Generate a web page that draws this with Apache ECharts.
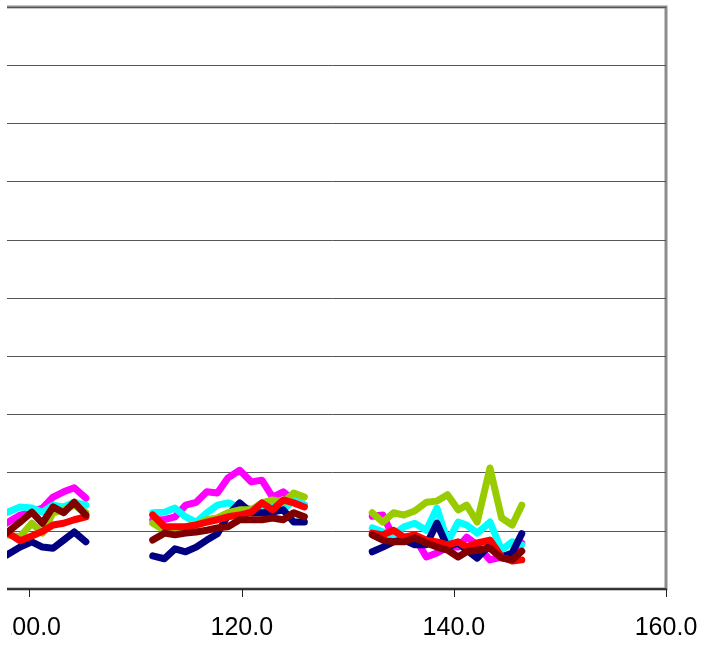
<!DOCTYPE html>
<html>
<head>
<meta charset="utf-8">
<script src="https://cdn.jsdelivr.net/npm/echarts@6/dist/echarts.min.js"></script>
<style>html,body{margin:0;padding:0;background:#fff}#c{width:707px;height:650px}</style>
</head>
<body>
<div id="c"></div>
<script>
// x positions (null-valued points at 108.5 and 129 break the lines between groups)
const xValues = [
  97.8, 99.1, 100.2, 101.2, 102.2, 103.2, 104.2, 105.3,
  108.5,
  111.6, 112.7, 113.7, 114.7, 115.7, 116.7, 117.7, 118.7, 119.8, 120.9, 121.9, 122.9, 123.9, 124.9, 125.9,
  129.0,
  132.3, 133.3, 134.3, 135.3, 136.3, 137.4, 138.4, 139.4, 140.4, 141.2, 142.2, 143.4, 144.5, 145.5, 146.4
];
const xTicks = [80, 100, 120, 140, 160];
const navy = [
  0.58, 0.72, 0.81, 0.72, 0.70, 0.84, 0.98, 0.81,
  null,
  0.57, 0.52, 0.69, 0.64, 0.72, 0.84, 0.95, 1.27, 1.48, 1.31, 1.31, 1.32, 1.36, 1.15, 1.15,
  null,
  0.64, 0.72, 0.81, 0.84, 0.76, 0.76, 1.13, 0.72, 0.79, 0.67, 0.53, 0.76, 0.55, 0.62, 0.95
];
const magenta = [
  1.13, 1.27, 1.32, 1.39, 1.58, 1.67, 1.74, 1.56,
  null,
  1.19, 1.19, 1.24, 1.44, 1.49, 1.67, 1.65, 1.91, 2.04, 1.84, 1.87, 1.58, 1.67, 1.53, 1.44,
  null,
  1.25, 1.27, 0.89, 0.84, 0.89, 0.55, 0.62, 0.72, 0.72, 0.89, 0.76, 0.50, 0.55, 0.50, 0.79
];
const cyan = [
  1.31, 1.41, 1.39, 1.32, 1.44, 1.41, 1.49, 1.44,
  null,
  1.31, 1.32, 1.39, 1.24, 1.15, 1.31, 1.44, 1.48, 1.41, 1.37, 1.41, 1.49, 1.36, 1.53, 1.44,
  null,
  1.05, 0.98, 0.93, 1.07, 1.13, 1.01, 1.39, 0.81, 1.15, 1.10, 0.96, 1.15, 0.67, 0.81, 0.76
];
const green = [
  0.93, 0.90, 1.13, 0.96, 1.31, 1.36, 1.44, 1.31,
  null,
  1.13, 1.01, 1.01, 1.07, 1.10, 1.19, 1.22, 1.31, 1.36, 1.36, 1.48, 1.53, 1.49, 1.65, 1.58,
  null,
  1.31, 1.15, 1.31, 1.27, 1.34, 1.49, 1.51, 1.62, 1.36, 1.44, 1.15, 2.08, 1.22, 1.10, 1.44
];
const red = [
  0.98, 0.83, 0.91, 0.99, 1.10, 1.13, 1.19, 1.24,
  null,
  1.27, 1.07, 1.07, 1.07, 1.10, 1.15, 1.19, 1.24, 1.27, 1.32, 1.48, 1.36, 1.53, 1.48, 1.41,
  null,
  0.96, 0.93, 1.01, 0.89, 0.93, 0.84, 0.81, 0.76, 0.81, 0.72, 0.79, 0.84, 0.55, 0.48, 0.50
];
const maroon = [
  0.96, 1.15, 1.32, 1.13, 1.41, 1.31, 1.49, 1.27,
  null,
  0.84, 0.96, 0.93, 0.96, 0.98, 1.01, 1.05, 1.07, 1.19, 1.19, 1.19, 1.22, 1.19, 1.31, 1.24,
  null,
  0.93, 0.84, 0.81, 0.81, 0.88, 0.79, 0.72, 0.67, 0.55, 0.64, 0.67, 0.70, 0.53, 0.50, 0.65
];

const seriesDefs = [
  ['Magenta', magenta, '#FF00FF'],
  ['Cyan', cyan, '#00FFFF'],
  ['Navy', navy, '#000080'],
  ['Green', green, '#99CC00'],
  ['Red', red, '#FF0000'],
  ['Maroon', maroon, '#800000']
];

const chart = echarts.init(document.getElementById('c'));
chart.setOption({
  animation: false,
  backgroundColor: '#fff',
  grid: {
    left: -182.4, right: 41, top: 7, bottom: 61,
    containLabel: false, outerBoundsMode: 'none',
    show: true, borderColor: '#8c8c8c', borderWidth: 3, backgroundColor: 'transparent'
  },
  xAxis: {
    type: 'value', min: xTicks[0], max: xTicks[xTicks.length - 1], interval: 20,
    axisLine: { show: true, onZero: false, lineStyle: { color: '#222', width: 1.5 } },
    axisTick: { show: true, inside: false, length: 8, lineStyle: { color: '#222', width: 1 } },
    axisLabel: {
      margin: 27, color: '#000', fontSize: 25, fontFamily: 'Liberation Sans, Arial, sans-serif',
      formatter: v => v.toFixed(1)
    },
    splitLine: { show: false }
  },
  yAxis: {
    type: 'value', min: 0, max: 10, interval: 1,
    axisLine: { show: false }, axisTick: { show: false }, axisLabel: { show: false },
    splitLine: { show: true, lineStyle: { color: '#555', width: 1 } }
  },
  graphic: [
    { type: 'rect', z: 100, shape: { x: 0, y: 0, width: 7, height: 650 }, style: { fill: '#fff' } },
    { type: 'rect', z: 100, shape: { x: 0, y: 600, width: 11, height: 50 }, style: { fill: '#fff' } }
  ],
  series: seriesDefs.map(([name, vals, color]) => ({
    name, type: 'line', showSymbol: false, symbol: 'none',
    data: xValues.map((x, i) => [x, vals[i] === null ? '-' : vals[i]]),
    connectNulls: false,
    lineStyle: { color, width: 7, cap: 'round', join: 'round' },
    itemStyle: { color }
  }))
});
</script>
</body>
</html>
